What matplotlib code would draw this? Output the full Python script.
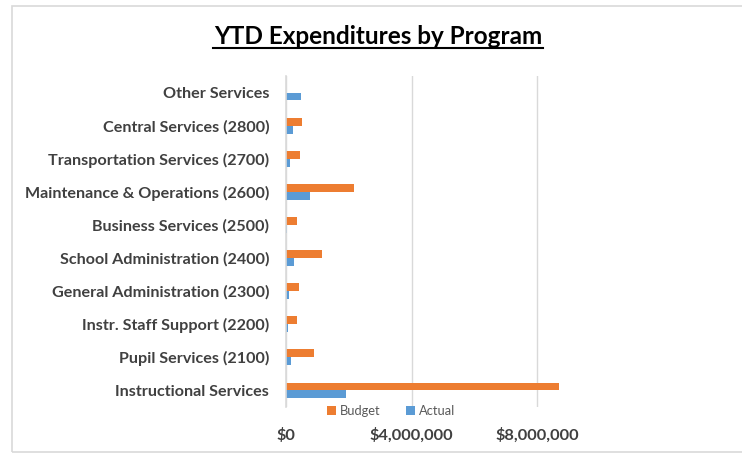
import numpy as np
import matplotlib
matplotlib.use("Agg")
import matplotlib.pyplot as plt
from matplotlib.patches import Rectangle
from matplotlib.lines import Line2D
from matplotlib.ticker import FuncFormatter

# categories listed bottom -> top
categories = [
    "Instructional Services",
    "Pupil Services (2100)",
    "Instr. Staff Support (2200)",
    "General Administration (2300)",
    "School Administration (2400)",
    "Business Services (2500)",
    "Maintenance & Operations (2600)",
    "Transportation Services (2700)",
    "Central Services (2800)",
    "Other Services",
]
budget = [8710000, 890000, 340000, 410000, 1150000, 350000, 2150000, 450000, 500000, 0]
actual = [1920000, 150000, 75000, 95000, 265000, 20000, 775000, 140000, 210000, 470000]
xticks = [0, 4000000, 8000000]

orange = "#ED7D31"
blue = "#5B9BD5"
grid = "#D9D9D9"
txt = "#404040"

plt.rcParams["font.family"] = ["Lato", "DejaVu Sans"]

fig = plt.figure(figsize=(7.42, 4.53), dpi=100)
W, H = 742, 453
ax = fig.add_axes([286 / W, 1 - 407 / H, 314 / W, 331 / H])

y = np.arange(len(categories))
h = 0.24
ax.barh(y + h / 2, budget, height=h, color=orange, label="Budget", zorder=3)
ax.barh(y - h / 2, actual, height=h, color=blue, label="Actual", zorder=3)

ax.set_xlim(0, 10000000)
ax.set_ylim(-0.5, len(categories) - 0.5)
ax.set_yticks(y)
ax.set_yticklabels(categories, fontsize=11.6, fontweight="bold", color=txt)
ax.set_xticks(xticks)
ax.xaxis.set_major_formatter(FuncFormatter(lambda v, p: "${:,.0f}".format(v)))
for lab in ax.get_xticklabels():
    lab.set_fontweight("bold")
    lab.set_fontsize(11.8)
    lab.set_color(txt)
ax.tick_params(axis="y", length=0, pad=12)
ax.tick_params(axis="x", length=0, pad=15)
ax.grid(axis="x", color=grid, linewidth=1, zorder=0)
for s in ["top", "right", "bottom"]:
    ax.spines[s].set_visible(False)
ax.spines["left"].set_color(grid)
ax.spines["left"].set_linewidth(1.2)
ax.spines["left"].set_zorder(4)

leg = fig.legend(loc="center", bbox_to_anchor=(391 / W, 1 - 411 / H), ncol=2,
                 frameon=False, fontsize=9.3, handlelength=0.7, handleheight=0.7,
                 handletextpad=0.3, columnspacing=2.0)
for t in leg.get_texts():
    t.set_color("#595959")

# title with underline
fig.text(378 / W, 1 - 36 / H, "YTD Expenditures by Program", ha="center", va="center",
         fontsize=17.5, fontweight="bold", color="black")
fig.add_artist(Line2D([213 / W, 543 / W], [1 - 48 / H, 1 - 48 / H], color="black",
                      linewidth=1.5, transform=fig.transFigure))

# chart frame (cut off on the right)
fig.add_artist(Rectangle((12 / W, 1 / H), 2.0, 446 / H, transform=fig.transFigure,
                         fill=False, edgecolor=grid, linewidth=1.2))

fig.savefig("out.png", dpi=100, facecolor="white")
